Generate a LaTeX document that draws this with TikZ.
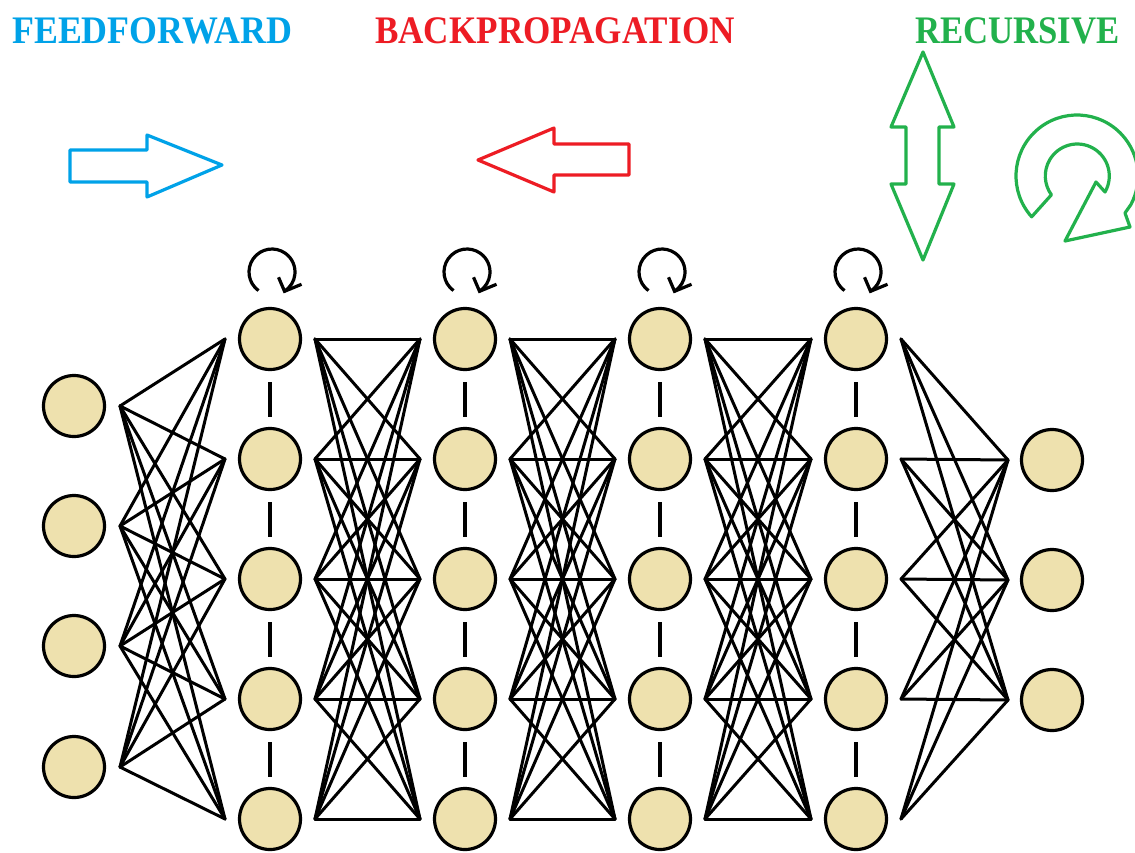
\documentclass[tikz,border=0pt]{standalone}
\usepackage{graphicx}
\usepackage{fontspec}
\setmainfont{Liberation Serif}
\usetikzlibrary{arrows.meta}
\definecolor{nodefill}{RGB}{238,225,174}
\definecolor{ffblue}{RGB}{0,162,232}
\definecolor{bpred}{RGB}{237,28,36}
\definecolor{recgreen}{RGB}{34,177,76}
\begin{document}
\begin{tikzpicture}[x=1pt,y=-1pt,
  neuron/.style={circle,draw=black,line width=3.2pt,fill=nodefill,minimum size=61pt,inner sep=0pt},
  link/.style={draw=black,line width=3pt,line cap=round},
  dashmark/.style={draw=black,line width=3.2pt},
  selfloop/.style={draw=black,line width=3.2pt},
  blockarrow/.style={line width=3.2pt,line join=round,fill=white},
  title/.style={anchor=base west,inner sep=0pt,font=\fontsize{39}{39}\selectfont\bfseries}]
\clip (0,0) rectangle (1135,852);
\fill[white] (0,0) rectangle (1135,852);

% titles
\node[title,text=ffblue] (ff) at (12,43) {\scalebox{0.92}[1]{FEEDFORWARD}};
\node[title,text=bpred] (bp) at (375,43) {\scalebox{0.9}[1]{BACKPROPAGATION}};
\node[title,text=recgreen] (rc) at (915,43) {\scalebox{0.89}[1]{RECURSIVE}};

% block arrows
\draw[blockarrow,draw=ffblue] (70,150) -- (147,150) -- (147,135) -- (222,165) -- (147,197) -- (147,182) -- (70,182) -- cycle;
\draw[blockarrow,draw=bpred] (478,160) -- (554,128) -- (554,144) -- (629,144) -- (629,175) -- (554,175) -- (554,192) -- cycle;
\draw[blockarrow,draw=recgreen] (923,52) -- (954,127) -- (939,127) -- (939,184) -- (954,184) -- (923,260) -- (891,184) -- (906,184) -- (906,127) -- (891,127) -- cycle;
\draw[blockarrow,draw=recgreen] (1077,176) ++(138:61) arc[start angle=138,end angle=388,radius=61]
  -- (1125,213) -- (1130,227) -- (1065,241) -- (1096,182) -- (1105,192)
  arc[start angle=30,end angle=-216,radius=32] -- cycle;

% coordinates of ports
\foreach \y [count=\i] in {406,526,646,767} {
  \coordinate (inR\i) at (120,\y);
}
\foreach \x [count=\l] in {270,465,660,856} {
  \foreach \y [count=\k] in {339,459,579,699,819} {
    \coordinate (h\l-\k-L) at (\x-45,\y);
    \coordinate (h\l-\k-R) at (\x+45,\y);
  }
}
\foreach \y [count=\i] in {460,580,700} {
  \coordinate (outL\i) at (1008,\y);
}

% links
\foreach \i in {1,...,4} \foreach \k in {1,...,5} \draw[link] (inR\i) -- (h1-\k-L);
\foreach \l/\m in {1/2,2/3,3/4} \foreach \i in {1,...,5} \foreach \k in {1,...,5}
  \draw[link] (h\l-\i-R) -- (h\m-\k-L);
\foreach \i in {1,...,5} \foreach \k in {1,...,3} \draw[link] (h4-\i-R) -- (outL\k);

% neurons
\foreach \y [count=\i] in {406,526,646,767} {
  \node[neuron] (in\i) at (74,\y) {};
}
\foreach \x [count=\l] in {270,465,660,856} {
  \foreach \y [count=\k] in {339,459,579,699,819} {
    \node[neuron] (h\l-\k) at (\x,\y) {};
  }
  \foreach \k in {1,...,4} {
    \draw[dashmark] ([yshift=-43pt]h\l-\k.center) -- ([yshift=-78pt]h\l-\k.center);
  }
  % self loop
  \draw[selfloop] (\x+2,272) ++(126:23) arc[start angle=126,end angle=417,radius=23] coordinate (tip\l);
  \draw[selfloop,line join=miter] ([shift={(-6,-14)}]tip\l) -- (tip\l) -- ([shift={(17,-7)}]tip\l);
}
\foreach \y [count=\i] in {460,580,700} {
  \node[neuron] (out\i) at (1052,\y) {};
}
\end{tikzpicture}
\end{document}
